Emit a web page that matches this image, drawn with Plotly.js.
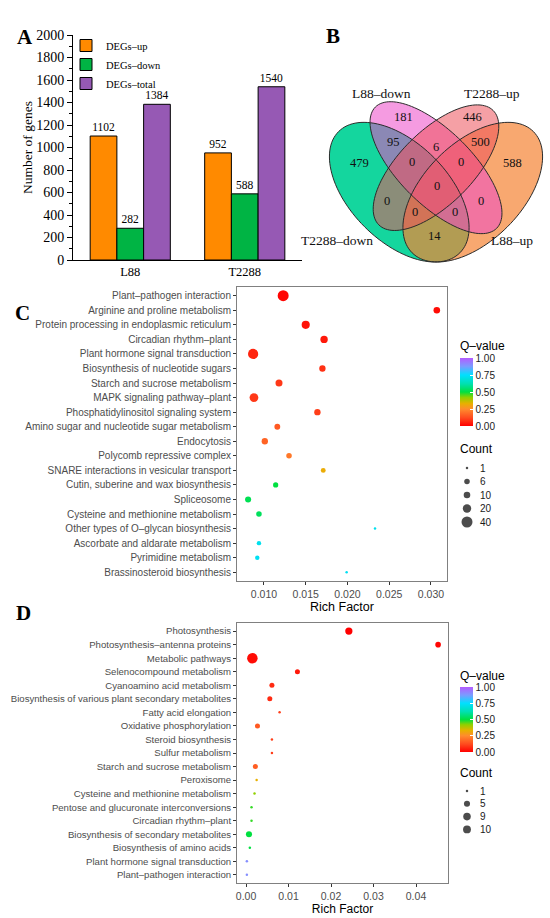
<!DOCTYPE html>
<html>
<head>
<meta charset="utf-8">
<script src="https://cdn.plot.ly/plotly-3.0.1.min.js"></script>
<style>
  body { margin: 0; background: #fff; }
  #fig { width: 550px; height: 918px; }
</style>
</head>
<body>
<div id="fig"></div>
<script>
// ---- data ----

// A: DEG counts
const groups = ['L88', 'T2288'];
const degUp = [1102, 952];
const degDown = [282, 588];
const degTotal = [1384, 1540];

// B: Venn region counts
const vennSets = ['T2288–down', 'L88–down', 'T2288–up', 'L88–up'];
const vennRegions = [
    'L88–down', 'T2288–up', 'T2288–down&L88–down', 'L88–down&T2288–up', 'T2288–up&L88–up',
    'T2288–down', 'T2288–down&L88–down&T2288–up', 'L88–down&T2288–up&L88–up', 'L88–up', 'all',
    'T2288–down&T2288–up', 'L88–down&L88–up', 'T2288–down&T2288–up&L88–up', 'T2288–down&L88–down&L88–up', 'T2288–down&L88–up'
];
const vennCounts = [181, 446, 95, 6, 500, 479, 0, 0, 588, 0, 0, 0, 0, 0, 14];

// C: KEGG enrichment, first comparison
const pathwaysC = [
    'Plant–pathogen interaction', 'Arginine and proline metabolism',
    'Protein processing in endoplasmic reticulum', 'Circadian rhythm–plant',
    'Plant hormone signal transduction', 'Biosynthesis of nucleotide sugars',
    'Starch and sucrose metabolism', 'MAPK signaling pathway–plant',
    'Phosphatidylinositol signaling system', 'Amino sugar and nucleotide sugar metabolism',
    'Endocytosis', 'Polycomb repressive complex', 'SNARE interactions in vesicular transport',
    'Cutin, suberine and wax biosynthesis', 'Spliceosome', 'Cysteine and methionine metabolism',
    'Other types of O–glycan biosynthesis', 'Ascorbate and aldarate metabolism',
    'Pyrimidine metabolism', 'Brassinosteroid biosynthesis'
];
const richC = [0.0123, 0.0307, 0.0150, 0.0172, 0.0087, 0.0170, 0.0118, 0.0088, 0.0164, 0.0116,
    0.0101, 0.0130, 0.0171, 0.0114, 0.0081, 0.0094, 0.0233, 0.0094, 0.0092, 0.0199];
const countC = [40, 10, 18, 14, 33, 9, 12, 22, 9, 7, 9, 6, 4, 5, 8, 6, 1, 3, 3, 1];
const qC = [0.01, 0.02, 0.03, 0.04, 0.06, 0.08, 0.09, 0.09, 0.10, 0.15,
    0.17, 0.21, 0.32, 0.50, 0.52, 0.53, 0.72, 0.72, 0.73, 0.73];
const countBreaksC = [1, 6, 10, 20, 40];

// D: KEGG enrichment, second comparison
const pathwaysD = [
    'Photosynthesis', 'Photosynthesis–antenna proteins', 'Metabolic pathways',
    'Selenocompound metabolism', 'Cyanoamino acid metabolism',
    'Biosynthesis of various plant secondary metabolites', 'Fatty acid elongation',
    'Oxidative phosphorylation', 'Steroid biosynthesis', 'Sulfur metabolism',
    'Starch and sucrose metabolism', 'Peroxisome', 'Cysteine and methionine metabolism',
    'Pentose and glucuronate interconversions', 'Circadian rhythm–plant',
    'Biosynthesis of secondary metabolites', 'Biosynthesis of amino acids',
    'Plant hormone signal transduction', 'Plant–pathogen interaction'
];
const richD = [0.0242, 0.0452, 0.0015, 0.0121, 0.0061, 0.0056, 0.0079, 0.0027, 0.0061, 0.0061,
    0.0022, 0.0025, 0.0020, 0.0013, 0.0013, 0.0007, 0.0009, 0.0002, 0.0002];
const countD = [8, 4, 21, 3, 3, 3, 1, 3, 1, 1, 3, 1, 1, 1, 1, 5, 1, 1, 1];
const qD = [0.00, 0.01, 0.02, 0.04, 0.07, 0.07, 0.10, 0.15, 0.10, 0.10,
    0.16, 0.33, 0.42, 0.47, 0.47, 0.50, 0.50, 0.90, 0.90];
const countBreaksD = [1, 5, 9, 10];

// ---- helpers ----
const W = 550, H = 918;
const px = x => x / W;          // pixel -> paper x
const py = y => 1 - y / H;      // pixel -> paper y

const serif = 'Liberation Serif, Times New Roman, serif';
const sans = 'Liberation Sans, Arial, sans-serif';

// ggplot-like area scale for point size (diameter in px)
function sizeScale(counts, dmin, dmax) {
    const cmin = Math.min(...counts), cmax = Math.max(...counts);
    return c => dmin + (dmax - dmin) * Math.sqrt((c - cmin) / (cmax - cmin));
}
const sizeC = sizeScale(countC, 2.5, 11);
const sizeD = sizeScale(countD, 2.5, 10.5);

const qScale = [
    [0, '#FF0000'], [0.12, '#FF4A1E'], [0.25, '#FF8C2E'], [0.33, '#E8B000'],
    [0.42, '#90D000'], [0.5, '#00E040'], [0.62, '#00E0B0'], [0.75, '#00E0FF'],
    [0.875, '#7A9CFF'], [1, '#B45CFF']
];

function ellipsePath(cx, cy, a, b, rot) {
    const r = rot * Math.PI / 180;
    let d = '';
    for (let i = 0; i <= 120; i++) {
        const t = 2 * Math.PI * i / 120;
        const x = cx + a * Math.cos(t) * Math.cos(r) - b * Math.sin(t) * Math.sin(r);
        const y = cy + a * Math.cos(t) * Math.sin(r) + b * Math.sin(t) * Math.cos(r);
        d += (i ? 'L' : 'M') + x.toFixed(4) + ',' + y.toFixed(4);
    }
    return d + 'Z';
}

// ---- A: grouped bars ----
function barTrace(name, vals, color) {
    return {
        type: 'bar', x: groups, y: vals, name: name,
        xaxis: 'x', yaxis: 'y',
        marker: {color: color, line: {color: '#000', width: 1}},
        text: vals.map(String), textposition: 'outside',
        textfont: {family: serif, size: 11.5, color: '#000'},
        cliponaxis: false, hoverinfo: 'x+y'
    };
}
const traces = [
    barTrace('DEGs–up', degUp, '#FF8A00'),
    barTrace('DEGs–down', degDown, '#00B444'),
    barTrace('DEGs–total', degTotal, '#9659B4')
];

// ---- C / D: bubble plots ----
function dotTrace(names, rich, counts, q, sz, ax, cbY, cbLen) {
    return {
        type: 'scatter', mode: 'markers', x: rich, y: names,
        xaxis: 'x' + ax, yaxis: 'y' + ax, showlegend: false,
        marker: {
            size: counts.map(sz), color: q, cmin: 0, cmax: 1,
            colorscale: qScale, line: {width: 0}, opacity: 1,
            showscale: true,
            colorbar: {
                x: px(460), xanchor: 'left', xpad: 0,
                y: py(cbY), yanchor: 'middle', ypad: 0,
                len: cbLen, lenmode: 'pixels', thickness: 13, thicknessmode: 'pixels',
                outlinewidth: 0, tickvals: [0, 0.25, 0.5, 0.75, 1],
                ticktext: ['0.00', '0.25', '0.50', '0.75', '1.00'],
                ticks: 'inside', ticklen: 3, tickcolor: '#fff',
                tickfont: {family: sans, size: 10, color: '#1a1a1a'}
            }
        },
        cliponaxis: false
    };
}
traces.push(dotTrace(pathwaysC, richC, countC, qC, sizeC, 3, 392, 68));
traces.push(dotTrace(pathwaysD, richD, countD, qD, sizeD, 4, 719.5, 65));

// size keys for the Count legends (drawn on a pixel-space overlay axis)
function sizeKey(breaks, sz, top, step) {
    return {
        type: 'scatter', mode: 'markers',
        x: breaks.map(() => 467), y: breaks.map((b, i) => top + i * step),
        xaxis: 'x5', yaxis: 'y5', showlegend: false, hoverinfo: 'skip',
        marker: {size: breaks.map(sz), color: '#000', line: {width: 0}}
    };
}
traces.push(sizeKey(countBreaksC, sizeC, 468, 13.5));
traces.push(sizeKey(countBreaksD, sizeD, 791, 12.8));

// ---- B: Venn ----
const vennUnit = 245;                    // px per venn unit
const vx = p => 0.5 + (p - 436) / vennUnit;
const vy = p => 0.185 + (262 - p) / vennUnit;
const vennEllipses = [
    {cx: 0.35, cy: 0.47, a: 0.35, b: 0.20, rot: 135, fill: 'rgba(0,210,150,0.92)'},  // T2288-down
    {cx: 0.65, cy: 0.47, a: 0.35, b: 0.20, rot: 45, fill: 'rgba(245,131,51,0.7)'},   // L88-up
    {cx: 0.50, cy: 0.57, a: 0.35, b: 0.15, rot: 135, fill: 'rgba(237,73,200,0.55)'}, // L88-down
    {cx: 0.50, cy: 0.57, a: 0.33, b: 0.15, rot: 45, fill: 'rgba(237,82,91,0.55)'}    // T2288-up
];
const shapes = [];
vennEllipses.forEach(e => shapes.push({
    type: 'path', xref: 'x2', yref: 'y2', path: ellipsePath(e.cx, e.cy, e.a, e.b, e.rot),
    fillcolor: e.fill, line: {width: 0}, layer: 'above'
}));
vennEllipses.forEach(e => shapes.push({
    type: 'path', xref: 'x2', yref: 'y2', path: ellipsePath(e.cx, e.cy, e.a, e.b, e.rot),
    fillcolor: 'rgba(0,0,0,0)', line: {color: '#2b2b2b', width: 1}, layer: 'above'
}));

// label spots of the 15 regions, pixel positions
const vennLabelPx = [
    [403, 117], [472, 117], [393, 142], [436, 147], [480, 142],
    [359, 163], [412, 162], [461, 162], [512, 163], [437, 186],
    [387, 201], [481, 201], [415, 212], [455, 212], [434, 236]
];
const vennSetPx = [[337, 240], [381, 93], [492, 93], [512, 240]];

const annotations = [];
vennCounts.forEach((c, i) => annotations.push({
    xref: 'x2', yref: 'y2', x: vx(vennLabelPx[i][0]), y: vy(vennLabelPx[i][1]),
    text: String(c), showarrow: false, font: {family: serif, size: 12.5, color: '#111'}
}));
vennSets.forEach((s, i) => annotations.push({
    xref: 'x2', yref: 'y2', x: vx(vennSetPx[i][0]), y: vy(vennSetPx[i][1]),
    text: s, showarrow: false, font: {family: serif, size: 13.5, color: '#111'}
}));

// panel letters
[['A', 15, 23], ['B', 333, 22], ['C', 13, 299], ['D', 14, 627]].forEach(l => annotations.push({
    xref: 'paper', yref: 'paper', x: px(l[1]), y: py(l[2]), text: '<b>' + l[0] + '</b>',
    showarrow: false, font: {family: serif, size: 21, color: '#000'}
}));

// legend titles for C and D
[['Q–value', 346], ['Count', 449], ['Q–value', 676], ['Count', 773]].forEach(t => annotations.push({
    xref: 'paper', yref: 'paper', x: px(458), y: py(t[1]), xanchor: 'left', yanchor: 'middle',
    text: t[0], showarrow: false, font: {family: sans, size: 12, color: '#000'}
}));
// Count key labels
countBreaksC.forEach((b, i) => annotations.push({
    xref: 'x5', yref: 'y5', x: 478, y: 468 + i * 13.5, xanchor: 'left',
    text: String(b), showarrow: false, font: {family: sans, size: 10, color: '#1a1a1a'}
}));
countBreaksD.forEach((b, i) => annotations.push({
    xref: 'x5', yref: 'y5', x: 478, y: 791 + i * 12.8, xanchor: 'left',
    text: String(b), showarrow: false, font: {family: sans, size: 10, color: '#1a1a1a'}
}));

// ---- axes ----
const dotX = (dom, range, tickvals, fmt, titleSize) => ({
    domain: dom, range: range, tickvals: tickvals, tickformat: fmt,
    ticks: 'outside', ticklen: 3, tickcolor: '#333',
    tickfont: {family: sans, size: 10.5, color: '#4D4D4D'},
    showline: true, mirror: true, linecolor: '#808080', linewidth: 1,
    showgrid: false, zeroline: false,
    title: {text: 'Rich Factor', font: {family: sans, size: titleSize, color: '#000'}, standoff: 0}
});
const dotY = (dom, cats, fontSize) => ({
    domain: dom, type: 'category', categoryarray: cats, categoryorder: 'array',
    range: [cats.length - 0.4, -0.6],
    ticks: 'outside', ticklen: 3, tickcolor: '#333',
    tickfont: {family: sans, size: fontSize, color: '#4D4D4D'},
    showline: true, mirror: true, linecolor: '#808080', linewidth: 1,
    showgrid: false, zeroline: false
});

const layout = {
    width: W, height: H,
    margin: {l: 0, r: 0, t: 0, b: 0},
    paper_bgcolor: '#fff', plot_bgcolor: 'rgba(0,0,0,0)',
    barmode: 'group', bargap: 0.3, bargroupgap: 0,
    showlegend: true,
    legend: {
        x: px(66), y: py(31), xanchor: 'left', yanchor: 'top',
        font: {family: serif, size: 10.5, color: '#000'},
        bgcolor: 'rgba(0,0,0,0)', tracegroupgap: 0, traceorder: 'normal'
    },
    xaxis: {
        domain: [px(73), px(302)], anchor: 'y', type: 'category', range: [-0.5, 1.5],
        showline: true, linecolor: '#000', linewidth: 1, ticks: '',
        tickfont: {family: serif, size: 12.5, color: '#000'}, zeroline: false
    },
    yaxis: {
        domain: [py(260), py(35)], anchor: 'x', range: [0, 2000], dtick: 200,
        ticks: 'outside', ticklen: 5, tickcolor: '#000',
        minor: {dtick: 100, ticks: 'outside', ticklen: 3, tickcolor: '#000', showgrid: false},
        showline: true, linecolor: '#000', linewidth: 1, showgrid: false, zeroline: false,
        tickfont: {family: serif, size: 14, color: '#000'},
        title: {text: 'Number of genes', font: {family: serif, size: 13.5, color: '#000'}, standoff: 0}
    },
    xaxis2: {domain: [px(300), px(550)], anchor: 'y2', range: [vx(300), vx(550)], visible: false, fixedrange: true},
    yaxis2: {domain: [py(270), py(80)], anchor: 'x2', range: [vy(270), vy(80)], visible: false, fixedrange: true},
    xaxis3: Object.assign(dotX([px(237), px(447)], [0.00677, 0.03192],
        [0.010, 0.015, 0.020, 0.025, 0.030], '.3f', 12.5), {anchor: 'y3'}),
    yaxis3: Object.assign(dotY([py(581), py(287)], pathwaysC, 10), {anchor: 'x3'}),
    xaxis4: Object.assign(dotX([px(237), px(448)], [-0.00212, 0.04753],
        [0, 0.01, 0.02, 0.03, 0.04], '.2f', 12), {anchor: 'y4'}),
    yaxis4: Object.assign(dotY([py(883), py(623)], pathwaysD, 9.6), {anchor: 'x4'}),
    xaxis5: {domain: [0, 1], anchor: 'y5', range: [0, W], visible: false, fixedrange: true},
    yaxis5: {domain: [0, 1], anchor: 'x5', range: [H, 0], visible: false, fixedrange: true},
    shapes: shapes,
    annotations: annotations
};

Plotly.newPlot('fig', traces, layout, {displayModeBar: false, staticPlot: true});
</script>
</body>
</html>
